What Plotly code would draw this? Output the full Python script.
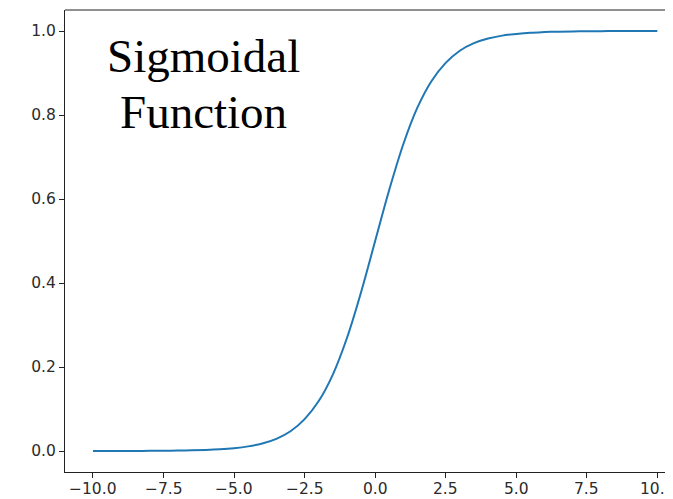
import plotly.graph_objects as go

# Values
x_vals = [-10.0, -9.5, -9.0, -8.5, -8.0, -7.5, -7.0, -6.5, -6.0, -5.5, -5.0,
          -4.5, -4.0, -3.5, -3.0, -2.5, -2.0, -1.5, -1.0, -0.5, 0.0,
          0.5, 1.0, 1.5, 2.0, 2.5, 3.0, 3.5, 4.0, 4.5, 5.0,
          5.5, 6.0, 6.5, 7.0, 7.5, 8.0, 8.5, 9.0, 9.5, 10.0]
y_vals = [0.00005, 0.00007, 0.0001, 0.0002, 0.0003, 0.0006, 0.0009, 0.0015, 0.0025, 0.0041, 0.0067,
          0.011, 0.018, 0.029, 0.047, 0.076, 0.119, 0.182, 0.269, 0.378, 0.5,
          0.622, 0.731, 0.818, 0.881, 0.924, 0.953, 0.971, 0.982, 0.989, 0.993,
          0.996, 0.9975, 0.9985, 0.9991, 0.9994, 0.9997, 0.9998, 0.9999, 0.99993, 0.99995]

x_ticks = [-10.0, -7.5, -5.0, -2.5, 0.0, 2.5, 5.0, 7.5, 10.0]
x_tick_labels = ["\u221210.0", "\u22127.5", "\u22125.0", "\u22122.5", "0.0", "2.5", "5.0", "7.5", "10.0"]
y_ticks = [0.0, 0.2, 0.4, 0.6, 0.8, 1.0]
y_tick_labels = ["0.0", "0.2", "0.4", "0.6", "0.8", "1.0"]
title_lines = ["Sigmoidal", "Function"]

fig = go.Figure()
fig.add_trace(go.Scatter(x=x_vals, y=y_vals, mode="lines", line_shape="spline",
                         line=dict(color="#1f77b4", width=2), showlegend=False,
                         hoverinfo="skip"))

tick_font = dict(family="DejaVu Sans", size=15.5, color="#2b2b2b")
fig.update_layout(
    width=665, height=491,
    margin=dict(l=57, r=0, t=2, b=27),
    paper_bgcolor="white", plot_bgcolor="white",
    xaxis=dict(range=[-10.992, 10.556], tickvals=x_ticks, ticktext=[""] * len(x_ticks),
               showgrid=False, zeroline=False, showline=True, linecolor="#222",
               linewidth=1.2, ticks="outside", ticklen=5, tickwidth=1, tickcolor="#222",
               tickfont=tick_font),
    yaxis=dict(range=[-0.05, 1.05], tickvals=y_ticks, ticktext=y_tick_labels,
               showgrid=False, zeroline=False, showline=True, linecolor="#222",
               linewidth=1.2, ticks="outside", ticklen=5, tickwidth=1, tickcolor="#222",
               tickfont=tick_font),
)
fig.add_shape(type="line", xref="paper", yref="paper", x0=0, x1=1, y0=1, y1=1,
              line=dict(color="#222", width=1.2))

# x tick labels as annotations so the rightmost one can run off the edge like the reference
for xv, lab in zip(x_ticks, x_tick_labels):
    fig.add_annotation(x=xv, y=0, xref="x", yref="paper", text=lab, showarrow=False,
                       xanchor="center", yanchor="top", yshift=-6, font=tick_font)

for txt, yy in zip(title_lines, [0.940, 0.807]):
    fig.add_annotation(x=-6.10, y=yy, xref="x", yref="y", text=txt, showarrow=False,
                       xanchor="center", yanchor="middle",
                       font=dict(family="Liberation Serif", size=47, color="black"))

fig.write_html("out.html")
